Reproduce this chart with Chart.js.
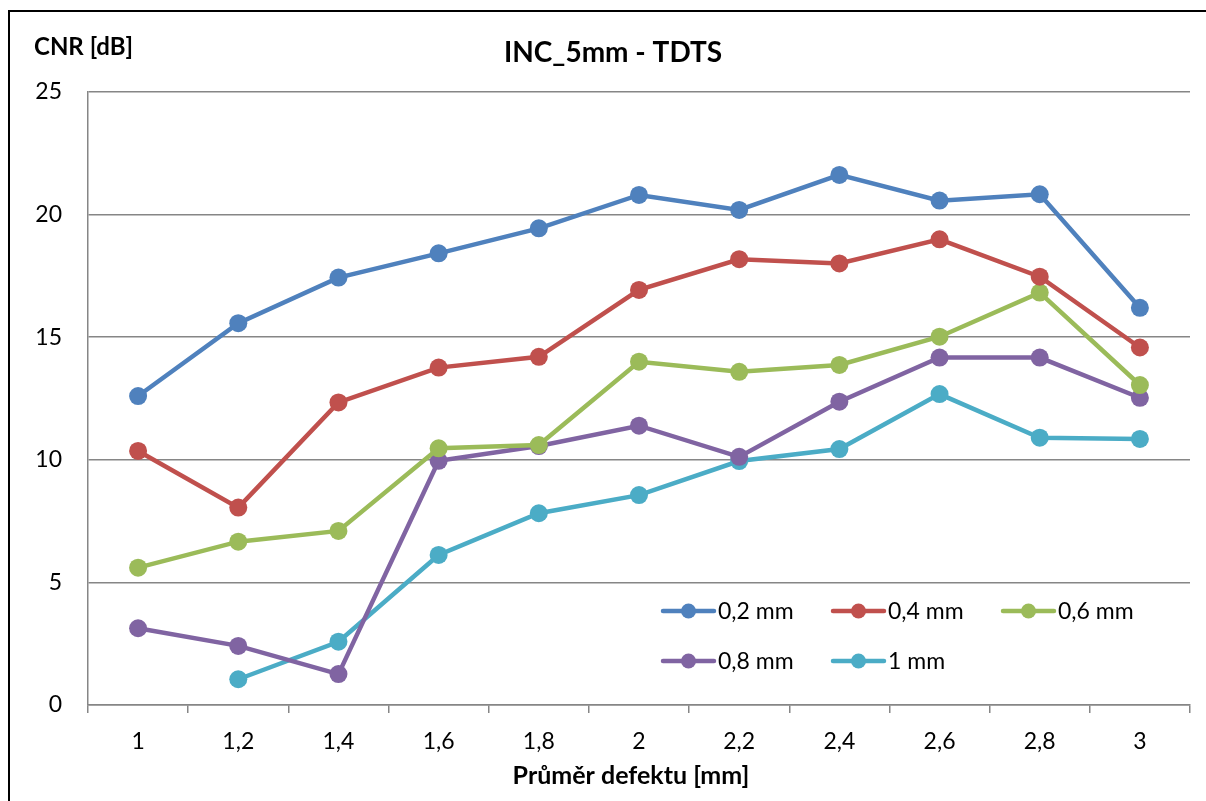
<!DOCTYPE html>
<html>
<head>
<meta charset="utf-8">
<title>INC_5mm - TDTS</title>
<script src="https://cdn.jsdelivr.net/npm/chart.js@4/dist/chart.umd.min.js"></script>
<style>
  html, body { margin: 0; padding: 0; background: #fff; }
  #wrap { width: 1206px; height: 801px; }
</style>
</head>
<body>
<div id="wrap"><canvas id="cnr" width="1206" height="801"></canvas></div>
<script>
// defect diameters [mm]
const diameters = ["1", "1,2", "1,4", "1,6", "1,8", "2", "2,2", "2,4", "2,6", "2,8", "3"];

// CNR [dB] per depth series
const cnr02 = [12.6, 15.57, 17.43, 18.42, 19.44, 20.8, 20.19, 21.62, 20.57, 20.83, 16.2];
const cnr04 = [10.36, 8.05, 12.34, 13.76, 14.2, 16.93, 18.18, 18.01, 18.99, 17.47, 14.58];
const cnr06 = [5.6, 6.66, 7.1, 10.47, 10.6, 14.0, 13.59, 13.87, 15.02, 16.82, 13.05];
const cnr08 = [3.13, 2.41, 1.26, 9.96, 10.56, 11.39, 10.12, 12.37, 14.17, 14.17, 12.53];
const cnr10 = [null, 1.05, 2.58, 6.12, 7.82, 8.56, 9.95, 10.44, 12.68, 10.9, 10.85];

const seriesNames = ["0,2 mm", "0,4 mm", "0,6 mm", "0,8 mm", "1 mm"];
const yTicks = [0, 5, 10, 15, 20, 25];

const colors = ["#4F81BD", "#C0504D", "#9BBB59", "#8064A2", "#4BACC6"];
const FONT = "Lato, 'Open Sans', sans-serif";

function series(i, values) {
  return {
    label: seriesNames[i],
    data: values,
    borderColor: colors[i],
    backgroundColor: colors[i],
    borderWidth: 4.5,
    pointRadius: 9,
    pointBorderWidth: 0,
    pointHoverRadius: 9,
    tension: 0,
    spanGaps: false
  };
}

// frame, titles and the in-plot legend
const decorations = {
  id: "decorations",
  afterDraw(chart) {
    const ctx = chart.ctx;
    ctx.save();

    ctx.strokeStyle = "#000";
    ctx.lineWidth = 2;
    ctx.strokeRect(9, 11, 1210, 800);

    ctx.fillStyle = "#000";
    ctx.textBaseline = "middle";
    ctx.font = "bold 28px " + FONT;
    ctx.textAlign = "center";
    ctx.fillText("INC_5mm - TDTS", 613, 53);

    ctx.font = "bold 24px " + FONT;
    ctx.textAlign = "left";
    ctx.fillText("CNR [dB]", 34, 47);

    ctx.font = "bold 25px " + FONT;
    ctx.textAlign = "center";
    ctx.fillText("Průměr defektu [mm]", 631, 776);

    // legend: 3 columns, 2 rows
    const cols = [663, 833, 1003];
    const rows = [611, 661];
    ctx.font = "23px " + FONT;
    ctx.textAlign = "left";
    chart.data.datasets.forEach((ds, i) => {
      const x = cols[i % 3];
      const y = rows[Math.floor(i / 3)];
      ctx.strokeStyle = ds.borderColor;
      ctx.lineWidth = 4.5;
      ctx.lineCap = "round";
      ctx.beginPath();
      ctx.moveTo(x, y);
      ctx.lineTo(x + 51, y);
      ctx.stroke();
      ctx.fillStyle = ds.backgroundColor;
      ctx.beginPath();
      ctx.arc(x + 25.5, y, 7.5, 0, Math.PI * 2);
      ctx.fill();
      ctx.fillStyle = "#000";
      ctx.fillText(ds.label, x + 55, y + 1);
    });

    ctx.restore();
  }
};

new Chart(document.getElementById("cnr"), {
  type: "line",
  data: {
    labels: diameters,
    datasets: [
      series(0, cnr02),
      series(1, cnr04),
      series(2, cnr06),
      series(3, cnr08),
      series(4, cnr10)
    ]
  },
  options: {
    responsive: false,
    devicePixelRatio: 1,
    animation: false,
    layout: { padding: { top: 92, right: 16, left: 0, bottom: 0 } },
    plugins: {
      legend: { display: false },
      title: { display: false },
      tooltip: { enabled: false }
    },
    scales: {
      x: {
        type: "category",
        offset: true,
        afterFit(scale) { scale.height = 96; },
        grid: {
          offset: true,
          drawOnChartArea: false,
          drawTicks: true,
          tickLength: 8,
          color: "#868686",
          lineWidth: 1.5
        },
        border: { color: "#868686", width: 1.5 },
        ticks: {
          color: "#000",
          padding: 15,
          maxRotation: 0,
          font: { family: FONT, size: 23 }
        }
      },
      y: {
        min: 0,
        max: 25,
        afterFit(scale) { scale.width = 88; },
        afterBuildTicks(scale) { scale.ticks = yTicks.map(v => ({ value: v })); },
        grid: {
          drawTicks: false,
          color: "#868686",
          lineWidth: 1.5
        },
        border: { color: "#868686", width: 1.5 },
        ticks: {
          color: "#000",
          padding: 26,
          font: { family: FONT, size: 23 }
        }
      }
    }
  },
  plugins: [decorations]
});
</script>
</body>
</html>
